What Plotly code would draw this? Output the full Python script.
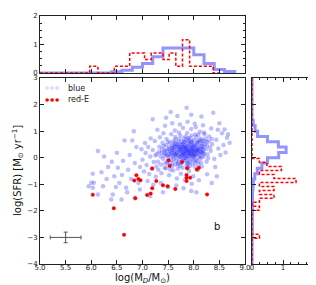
import plotly.graph_objects as go

# ---------------- data ----------------
blue_points = [
    # dense core
    (7.35,0.05),(7.42,0.21),(7.48,-0.12),(7.51,0.33),(7.55,0.08),(7.58,0.45),(7.61,-0.05),(7.63,0.27),(7.66,0.14),(7.68,0.52),
    (7.70,-0.18),(7.72,0.36),(7.74,0.02),(7.76,0.61),(7.78,0.19),(7.80,-0.09),(7.82,0.41),(7.84,0.25),(7.86,0.07),(7.88,0.55),
    (7.90,0.31),(7.92,-0.14),(7.94,0.12),(7.96,0.47),(7.98,0.22),(8.00,0.68),(8.02,0.03),(8.04,0.38),(8.06,0.16),(8.08,0.59),
    (8.10,0.29),(8.12,-0.03),(8.15,0.44),(8.18,0.21),(8.20,0.63),
    (7.38,0.32),(7.44,-0.22),(7.46,0.48),(7.53,-0.28),(7.57,0.18),(7.60,0.62),(7.64,-0.26),(7.67,0.39),(7.69,0.09),(7.73,-0.31),
    (7.75,0.28),(7.77,0.47),(7.79,-0.02),(7.81,0.72),(7.83,0.11),(7.85,0.36),(7.87,-0.21),(7.89,0.18),(7.91,0.64),(7.93,0.40),
    (7.95,-0.05),(7.97,0.29),(7.99,0.10),(8.01,0.51),(8.03,0.24),(8.05,0.78),(8.07,-0.12),(8.09,0.43),(8.11,0.13),(8.14,0.71),
    (8.16,0.34),(8.19,0.05),(8.22,0.49),
    (7.30,-0.15),(7.33,0.41),(7.40,-0.04),(7.45,0.15),(7.50,0.02),(7.54,0.56),(7.59,0.30),(7.62,0.11),(7.65,0.69),(7.71,0.22),
    (7.74,0.50),(7.78,0.31),(7.81,0.15),(7.84,-0.12),(7.86,0.66),(7.90,0.05),(7.92,0.26),(7.95,0.58),(7.98,-0.22),(8.00,0.35),
    (8.03,0.87),(8.06,0.27),(8.09,-0.25),(8.13,0.55),(8.17,0.18),(8.24,0.32),(8.27,0.12),(8.29,0.61),
    (7.37,0.18),(7.41,0.44),(7.47,0.26),(7.49,-0.20),(7.52,0.12),(7.56,-0.10),(7.57,0.37),(7.61,0.20),(7.62,0.49),(7.66,-0.12),
    (7.68,0.30),(7.70,0.58),(7.72,0.06),(7.75,0.15),(7.77,-0.14),(7.80,0.38),(7.82,0.58),(7.83,0.28),(7.85,0.00),(7.88,0.44),
    (7.89,0.72),(7.91,0.13),(7.93,-0.30),(7.94,0.34),(7.97,0.62),(7.99,0.42),(8.01,0.18),(8.04,-0.08),(8.06,0.52),(8.08,0.33),
    (8.11,0.66),(8.13,0.24),(8.15,0.02),(8.18,0.40),(8.21,0.14),(8.23,0.72),(8.26,0.45),(8.28,-0.02),(8.32,0.38),(8.35,0.70),
    (7.25,0.08),(7.27,-0.33),(7.32,0.22),(7.36,-0.26),(7.39,0.56),(7.43,0.07),(7.46,-0.40),(7.50,0.60),(7.54,-0.45),(7.58,-0.32),
    (7.64,0.78),(7.69,-0.42),(7.74,0.84),(7.78,-0.38),(7.84,0.80),(7.89,-0.36),(7.96,0.84),(8.02,-0.34),(8.09,0.86),(8.14,-0.18),
    (8.20,0.95),(8.25,0.60),
    (7.44,0.30),(7.48,0.10),(7.52,0.40),(7.55,0.22),(7.59,0.05),(7.60,0.35),(7.63,0.55),(7.65,0.02),(7.67,0.20),(7.70,0.42),
    (7.71,-0.05),(7.73,0.26),(7.76,0.35),(7.77,0.08),(7.79,0.52),(7.80,0.22),(7.82,0.02),(7.83,0.45),(7.85,0.18),(7.87,0.32),
    (7.88,-0.05),(7.90,0.48),(7.91,0.20),(7.93,0.06),(7.94,0.56),(7.96,0.15),(7.97,0.38),(7.99,-0.08),(8.00,0.25),(8.02,0.46),
    (8.04,0.10),(8.05,0.30),(8.07,0.62),(8.10,0.05),(8.12,0.36),(8.14,0.20),(8.17,0.52),(8.19,0.30),(7.58,-0.20),(7.62,0.40),
    (7.69,-0.25),(7.72,0.70),(7.76,-0.22),(7.81,0.60),(7.86,-0.30),(7.92,0.75),(7.98,0.05),(8.03,-0.18),(8.08,0.20),(8.16,0.65),
    (7.53,0.25),(7.66,0.46),(7.79,0.12),(7.84,0.38),(7.95,0.24),(8.01,0.08),(7.74,0.40),(7.88,0.24),(7.64,0.12),(7.90,-0.20),
    # halo
    (6.95,-0.35),(7.00,-0.08),(7.03,-0.52),(7.06,0.18),(7.08,-0.27),(7.11,0.40),(7.13,-0.61),(7.15,0.05),(7.18,-0.41),(7.20,0.29),
    (7.22,-0.16),(7.24,0.63),(7.26,-0.72),(7.28,0.14),(7.31,-0.45),(7.34,0.77),(7.37,-0.58),(7.41,0.92),(7.43,-0.39),(7.47,0.70),
    (7.52,-0.66),(7.56,0.88),(7.60,-0.48),(7.63,1.02),(7.67,-0.78),(7.71,0.95),(7.75,-0.60),(7.79,1.12),(7.83,-0.84),(7.87,0.93),
    (7.91,-0.50),(7.95,1.08),(7.99,-0.70),(8.04,1.15),(8.08,-0.46),(8.12,0.98),(8.16,-0.33),(8.21,0.88),(8.25,-0.15),(8.30,0.80),
    (8.33,0.25),(8.36,0.52),(8.40,-0.05),(8.44,0.68),(8.48,0.35),(8.52,0.10),(8.55,0.92),(8.47,1.05),
    (6.98,0.32),(7.05,0.55),(7.10,-0.88),(7.16,0.72),(7.21,-1.02),(7.29,1.05),(7.36,-0.95),(7.44,1.20),(7.50,-1.10),(7.58,1.30),
    (7.66,-1.05),(7.73,1.25),(7.80,-1.15),(7.88,1.35),(7.96,-0.98),(8.02,1.28),(8.10,-0.85),(8.18,1.22),(8.26,-0.62),(8.34,1.10),
    (8.42,-0.35),(8.58,0.48),(8.62,0.20),(8.65,0.75),
    # sparse outskirts
    (7.86,1.88),(7.68,1.57),(7.46,1.50),(8.38,1.69),(8.60,1.06),(8.67,0.88),(8.70,0.56),(8.50,1.30),(7.20,1.45),(7.95,1.62),
    (8.15,1.55),(7.55,1.72),(8.05,-1.30),(7.95,-1.25),(7.40,-1.30),(7.15,-1.45),(6.95,-1.20),(8.35,-0.95),(8.45,-0.70),
    # low-mass tail
    (6.13,0.25),(6.03,-0.60),(6.05,-0.94),(6.83,1.00),(6.52,-0.38),(6.62,-0.11),(6.65,0.65),(6.50,0.19),(6.33,-0.35),(6.00,-0.94),
    (5.95,-1.07),(6.23,-1.07),(6.03,-1.13),(6.13,-1.38),(6.42,-1.38),(6.59,-1.57),(6.39,-1.57),(6.68,-1.13),(6.30,-0.80),(6.45,-0.70),
    (6.55,-0.95),(6.72,-0.45),(6.78,-0.80),(6.85,-0.20),(6.88,0.40),(6.75,0.10),(6.60,-0.65),(6.40,-0.15),(6.20,-0.55),(6.92,-0.95),
    (6.70,-1.30),(6.85,-1.50),(6.25,0.05),(6.48,-1.10),(6.80,0.65),
]
blue_x = [p[0] for p in blue_points]
blue_y = [p[1] for p in blue_points]

red_x = [6.03, 6.44, 6.64, 6.86, 6.88, 6.84, 6.92, 6.96, 7.09, 7.16, 7.19, 7.19, 7.27, 7.40,
         7.49, 7.51, 7.53, 7.64, 7.77, 7.86, 7.93, 7.86, 7.86, 7.87, 8.06, 8.10, 8.26]
red_y = [-1.39, -1.90, -2.90, -1.53, -0.66, -0.86, -0.80, -0.85, -1.40, -1.35, -1.15, -0.41, -0.88, -1.04,
         -1.07, -0.10, -0.31, -1.18, -0.16, -0.65, -0.75, -0.75, -0.88, -0.40, -0.44, -0.38, -1.38]

# top histograms (log M_D)
top_blue_edges = [5.0, 6.4, 6.6, 6.8, 7.0, 7.2, 7.4, 7.6, 7.8, 8.0, 8.2, 8.4, 8.6, 8.8]
top_blue_vals = [0, 0.04, 0.10, 0.20, 0.33, 0.57, 0.88, 0.88, 0.88, 0.64, 0.33, 0.12, 0.05]
top_red_edges = [5.0, 5.97, 6.13, 6.45, 6.75, 7.04, 7.17, 7.40, 7.52, 7.65, 7.78, 7.92, 8.38, 8.55]
top_red_vals = [0, 0.235, 0, 0.235, 0.70, 0.47, 0.70, 0.47, 0.70, 0.235, 1.17, 0.235, 0]

# right histograms (log SFR)
right_blue_edges = [3.0, 1.4, 1.2, 1.0, 0.8, 0.6, 0.4, 0.2, 0.0, -0.2, -0.4, -0.6, -0.8, -1.0, -1.2, -1.4, -1.6, -4.0]
right_blue_vals = [0, 0.04, 0.10, 0.18, 0.50, 0.85, 1.10, 0.86, 0.50, 0.32, 0.17, 0.09, 0.05, 0.03, 0.02, 0.01, 0]
right_red_edges = [3.0, -0.03, -0.18, -0.33, -0.48, -0.63, -0.78, -0.93, -1.08, -1.23, -1.38, -1.53, -1.68,
                   -1.83, -1.98, -2.88, -3.03, -4.0]
right_red_vals = [0, 0.24, 0.48, 0.95, 0.24, 0.71, 1.42, 0.24, 0.71, 0.24, 0.71, 0.24, 0, 0.24, 0, 0.24, 0]

# typical error bar
err_x, err_y, err_dx, err_dy = 5.5, -3.0, 0.3, 0.2

main_xticks = [5.0, 5.5, 6.0, 6.5, 7.0, 7.5, 8.0, 8.5, 9.0]
main_xticklabels = ["5.0", "5.5", "6.0", "6.5", "7.0", "7.5", "8.0", "8.5", "9.0"]
main_yticks = [-4, -3, -2, -1, 0, 1, 2, 3]
main_yticklabels = ["\u22124", "\u22123", "\u22122", "\u22121", "0", "1", "2", "3"]
hist_ticks = [0, 1, 2]
hist_ticklabels = ["0", "1", "2"]


def step_h(edges, vals):
    xs, ys = [edges[0]], [0]
    for i, v in enumerate(vals):
        xs += [edges[i], edges[i + 1]]
        ys += [v, v]
    xs.append(edges[-1]); ys.append(0)
    return xs, ys


def step_v(edges, vals):
    xs, ys = [0], [edges[0]]
    for i, v in enumerate(vals):
        ys += [edges[i], edges[i + 1]]
        xs += [v, v]
    ys.append(edges[-1]); xs.append(0)
    return xs, ys


BLUE_LINE = "rgba(60,60,255,0.55)"
RED = "#ff0000"
FONT = "DejaVu Sans"

fig = go.Figure()

# main scatter
fig.add_trace(go.Scatter(x=blue_x, y=blue_y, mode="markers", xaxis="x", yaxis="y",
                         marker=dict(color="rgba(20,20,255,0.28)", size=4.5, line=dict(width=0)),
                         showlegend=False, hoverinfo="skip"))
fig.add_trace(go.Scatter(x=red_x, y=red_y, mode="markers", xaxis="x", yaxis="y",
                         marker=dict(color=RED, size=3.5, line=dict(color="#d00000", width=0.4)),
                         showlegend=False, hoverinfo="skip"))
fig.add_trace(go.Scatter(x=[err_x], y=[err_y], mode="markers", xaxis="x", yaxis="y",
                         marker=dict(color="#555555", size=1),
                         error_x=dict(type="data", array=[err_dx], color="#555555", thickness=1, width=2),
                         error_y=dict(type="data", array=[err_dy], color="#555555", thickness=1, width=2),
                         showlegend=False, hoverinfo="skip"))

# top histograms
bx, by = step_h(top_blue_edges, top_blue_vals)
fig.add_trace(go.Scatter(x=bx, y=by, mode="lines", xaxis="x2", yaxis="y2",
                         line=dict(color=BLUE_LINE, width=3), showlegend=False, hoverinfo="skip"))
rx, ry = step_h(top_red_edges, top_red_vals)
fig.add_trace(go.Scatter(x=rx, y=ry, mode="lines", xaxis="x2", yaxis="y2",
                         line=dict(color=RED, width=1.5, dash="3px,2px"), showlegend=False, hoverinfo="skip"))

# right histograms
bx, by = step_v(right_blue_edges, right_blue_vals)
fig.add_trace(go.Scatter(x=bx, y=by, mode="lines", xaxis="x3", yaxis="y3",
                         line=dict(color=BLUE_LINE, width=3), showlegend=False, hoverinfo="skip"))
rx, ry = step_v(right_red_edges, right_red_vals)
fig.add_trace(go.Scatter(x=rx, y=ry, mode="lines", xaxis="x3", yaxis="y3",
                         line=dict(color=RED, width=1.5, dash="3px,2px"), showlegend=False, hoverinfo="skip"))

W, H = 316, 285
mx0, mx1 = 32 / W, 237 / W
my0, my1 = (H - 256) / H, (H - 70) / H
ty0, ty1 = (H - 65) / H, (H - 8) / H
rx0, rx1 = 244 / W, 306 / W

ax_common = dict(showline=True, linecolor="#222222", linewidth=1, mirror="ticks", ticks="inside",
                 ticklen=4, tickwidth=0.8, tickcolor="#222222", showgrid=False, zeroline=False,
                 automargin=False,
                 tickfont=dict(family=FONT, size=7, color="#222222"))

fig.update_layout(
    width=W, height=H, margin=dict(l=0, r=0, t=0, b=0),
    paper_bgcolor="white", plot_bgcolor="white", showlegend=False,
    xaxis=dict(domain=[mx0, mx1], range=[5, 9], anchor="y", tickvals=main_xticks,
               ticktext=main_xticklabels, ticklabelstandoff=-3, **ax_common),
    yaxis=dict(domain=[my0, my1], range=[-4, 3], anchor="x", tickvals=main_yticks,
               ticktext=main_yticklabels, **ax_common),
    xaxis2=dict(domain=[mx0, mx1], range=[5, 9], anchor="y2", tickvals=main_xticks,
                showticklabels=False, **ax_common),
    yaxis2=dict(domain=[ty0, ty1], range=[0, 2], anchor="x2", tickvals=hist_ticks, ticktext=hist_ticklabels,
                minor=dict(dtick=0.25, ticks="inside", ticklen=2, tickcolor="#222222"), **ax_common),
    xaxis3=dict(domain=[rx0, rx1], range=[0, 2], anchor="y3", tickvals=hist_ticks, ticktext=hist_ticklabels,
                ticklabelstandoff=-3,
                minor=dict(dtick=0.25, ticks="inside", ticklen=2, tickcolor="#222222"), **ax_common),
    yaxis3=dict(domain=[my0, my1], range=[-4, 3], anchor="x3", tickvals=main_yticks,
                showticklabels=False, **ax_common),
)

# manual legend (glyphs + labels)
leg_rows = [("blue", "rgba(60,60,255,0.2)", 0.946), ("red-E", RED, 0.882)]
for label, col, yy in leg_rows:
    for dx in (-6, -1, 4):
        fig.add_shape(type="circle", xref="x domain", yref="y domain", xsizemode="pixel", ysizemode="pixel",
                      xanchor=0.064, yanchor=yy, x0=dx - 1.8, x1=dx + 1.8, y0=-1.8, y1=1.8,
                      fillcolor=col, line=dict(width=0))
    fig.add_annotation(text=label, xref="x domain", yref="y domain", x=0.125, y=yy, xanchor="left",
                       yanchor="middle", showarrow=False, font=dict(family=FONT, size=8, color="#222222"))

fig.add_annotation(text="b", xref="x domain", yref="y domain", x=0.888, y=0.161, showarrow=False,
                   font=dict(family=FONT, size=10, color="#111111"))
fig.add_annotation(text="log(M<sub><i>D</i></sub>/M<sub>\u2299</sub>)", xref="x domain", yref="paper",
                   x=0.5, y=(H - 270) / H, yanchor="middle", showarrow=False,
                   font=dict(family=FONT, size=10, color="#111111"))
fig.add_annotation(text="log(SFR) [M<sub>\u2299</sub> yr<sup>\u22121</sup>]", xref="paper", yref="paper",
                   x=10 / W, y=(H - 163) / H, textangle=-90, xanchor="center", yanchor="middle",
                   showarrow=False, font=dict(family=FONT, size=10, color="#111111"))

fig.write_html("out.html")
